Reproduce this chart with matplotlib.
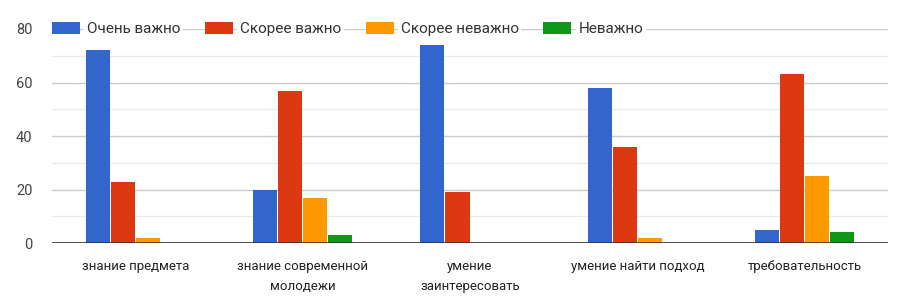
import numpy as np
import matplotlib
matplotlib.use("Agg")
import matplotlib.pyplot as plt
from matplotlib.ticker import MultipleLocator

plt.rcParams["font.family"] = ["Roboto", "DejaVu Sans"]

# ── DATA ─────────────────────────────────────────────
categories = ["знание предмета", "знание современной\nмолодежи", "умение\nзаинтересовать",
              "умение найти подход", "требовательность"]
series_names = ["Очень важно", "Скорее важно", "Скорее неважно", "Неважно"]
very_important = [72, 20, 74, 58, 5]
rather_important = [23, 57, 19, 36, 63]
rather_unimportant = [2, 17, 0, 2, 25]
unimportant = [0, 3, 0, 0, 4]
colors = ["#3366cc", "#dc3912", "#ff9900", "#109618"]

values = [very_important, rather_important, rather_unimportant, unimportant]

# ── CHART ────────────────────────────────────────────
fig = plt.figure(figsize=(9.1, 3.05), dpi=100)
ax = fig.add_axes([0.057, 0.203, 0.919, 0.702])

x = np.arange(len(categories))
width = 0.15
for i, (vals, name, c) in enumerate(zip(values, series_names, colors)):
    ax.bar(x + (i - 1.5) * width, vals, width * 0.96, color=c, label=name, zorder=2)

ax.set_xlim(-0.5, len(categories) - 0.5)
ax.set_ylim(0, 80)
ax.yaxis.set_major_locator(MultipleLocator(20))
ax.yaxis.set_minor_locator(MultipleLocator(10))
ax.set_axisbelow(True)
ax.grid(axis="y", which="major", color="#cccccc", linewidth=1)
ax.grid(axis="y", which="minor", color="#ebebeb", linewidth=1)
ax.axhline(0, color="#333333", linewidth=1.2, zorder=3)

for s in ax.spines.values():
    s.set_visible(False)

ax.set_xticks(x)
ax.set_xticklabels(categories, fontsize=9.5, color="#222222", linespacing=1.7)
ax.tick_params(axis="x", length=0, pad=12)
ax.tick_params(axis="y", which="both", length=0, pad=14, labelsize=10.5, labelcolor="#444444")

leg = ax.legend(loc="center left", bbox_to_anchor=(0.0, 1.0), ncol=4, frameon=False,
                fontsize=11, handlelength=1.85, handleheight=0.85, handletextpad=0.45,
                columnspacing=1.6, borderaxespad=0, borderpad=0)
for t in leg.get_texts():
    t.set_color("#333333")
    t.set_bbox(dict(facecolor="white", edgecolor="none", pad=2))

fig.savefig("out.png", dpi=100)
